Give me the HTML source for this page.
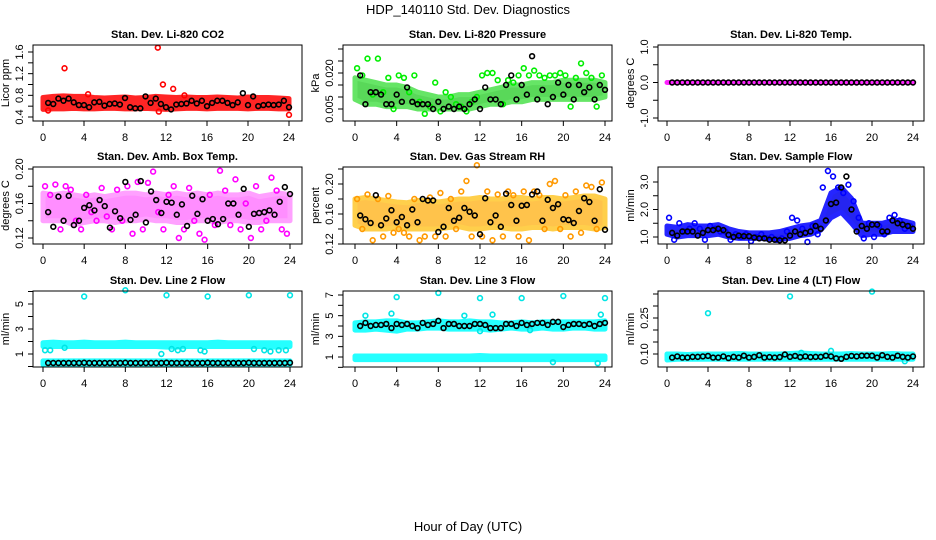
<!DOCTYPE html>
<html><head><meta charset="utf-8"><style>
html,body{margin:0;padding:0;background:#fff;}
svg{display:block;font-family:"Liberation Sans",Arial,sans-serif;}
</style></head><body>
<svg id="chart" width="936" height="540" viewBox="0 0 936 540">
<rect width="936" height="540" fill="#fff"/>
<text x="468" y="14" text-anchor="middle" font-size="13">HDP_140110  Std. Dev. Diagnostics</text>
<text x="468" y="531" text-anchor="middle" font-size="13">Hour of Day (UTC)</text>
</svg>
<script>
// ---- data arrays ----
const xTicks = [0,4,8,12,16,20,24];
const bandHours = [0,1,2,3,4,5,6,7,8,9,10,11,12,13,14,15,16,17,18,19,20,21,22,23,24];
const blackHours = [0.5,1,1.5,2,2.5,3,3.5,4,4.5,5,5.5,6,6.5,7,7.5,8,8.5,9,9.5,10,10.5,11,11.5,12,12.5,13,13.5,14,14.5,15,15.5,16,16.5,17,17.5,18,18.5,19,19.5,20,20.5,21,21.5,22,22.5,23,23.5,24];
const scatHours = [0.2,0.7,1.2,1.7,2.2,2.7,3.2,3.7,4.2,4.7,5.2,5.7,6.2,6.7,7.2,7.7,8.2,8.7,9.2,9.7,10.2,10.7,11.2,11.7,12.2,12.7,13.2,13.7,14.2,14.7,15.2,15.7,16.2,16.7,17.2,17.7,18.2,18.7,19.2,19.7,20.2,20.7,21.2,21.7,22.2,22.7,23.2,23.7];

// CO2
const co2Low  = [0.54,0.55,0.55,0.56,0.55,0.55,0.56,0.56,0.55,0.55,0.56,0.55,0.54,0.55,0.56,0.56,0.55,0.56,0.56,0.56,0.55,0.56,0.56,0.55,0.55];
const co2High = [0.76,0.78,0.79,0.78,0.78,0.76,0.75,0.76,0.77,0.75,0.76,0.78,0.77,0.76,0.77,0.76,0.76,0.77,0.76,0.75,0.77,0.76,0.76,0.75,0.74];
const co2OutH = [2.1,11.2,11.7,12.7,4.4,24,11.3,0.5,13.8];
const co2OutV = [1.3,1.68,1.0,0.92,0.82,0.44,0.5,0.52,0.8];
const co2Black = [0.66,0.64,0.74,0.7,0.74,0.67,0.62,0.62,0.58,0.67,0.68,0.61,0.64,0.65,0.63,0.75,0.58,0.56,0.56,0.78,0.66,0.74,0.64,0.58,0.54,0.63,0.64,0.65,0.7,0.65,0.7,0.6,0.66,0.7,0.7,0.66,0.62,0.67,0.84,0.62,0.78,0.6,0.62,0.63,0.62,0.63,0.7,0.58];

// Pressure
const presLow  = [0.009,0.007,0.007,0.006,0.006,0.006,0.005,0.005,0.005,0.005,0.005,0.005,0.006,0.007,0.007,0.008,0.008,0.009,0.009,0.009,0.009,0.009,0.009,0.009,0.010];
const presHigh = [0.018,0.017,0.016,0.015,0.015,0.014,0.012,0.011,0.010,0.010,0.011,0.011,0.012,0.013,0.014,0.015,0.015,0.016,0.016,0.016,0.017,0.017,0.017,0.017,0.016];
const presScat = [0.022,0.019,0.026,0.011,0.026,0.012,0.018,0.005,0.019,0.018,0.012,0.019,0.008,0.003,0.006,0.016,0.004,0.012,0.010,0.007,0.006,0.004,0.008,0.010,0.019,0.020,0.020,0.017,0.007,0.017,0.016,0.019,0.022,0.019,0.021,0.019,0.018,0.019,0.019,0.020,0.019,0.006,0.018,0.024,0.020,0.018,0.006,0.019];
const presBlack = [0.019,0.007,0.012,0.012,0.011,0.007,0.007,0.011,0.008,0.014,0.008,0.007,0.007,0.007,0.005,0.008,0.005,0.006,0.005,0.006,0.005,0.007,0.009,0.005,0.014,0.009,0.009,0.007,0.015,0.019,0.009,0.015,0.011,0.027,0.009,0.013,0.007,0.010,0.016,0.011,0.015,0.009,0.015,0.012,0.014,0.009,0.015,0.013];

// Temp
const tempBlack = [0,0,0,0,0,0,0,0,0,0,0,0,0,0,0,0,0,0,0,0,0,0,0,0,0,0,0,0,0,0,0,0,0,0,0,0,0,0,0,0,0,0,0,0,0,0,0,0];

// Box temp
const boxLow  = [0.14,0.14,0.14,0.135,0.138,0.14,0.14,0.138,0.14,0.14,0.142,0.14,0.14,0.138,0.138,0.14,0.14,0.138,0.14,0.14,0.138,0.138,0.14,0.14,0.14];
const boxHigh = [0.172,0.17,0.172,0.17,0.168,0.17,0.168,0.17,0.172,0.172,0.17,0.172,0.17,0.172,0.17,0.172,0.17,0.172,0.17,0.17,0.172,0.168,0.17,0.172,0.17];
const boxScat = [0.18,0.17,0.182,0.13,0.18,0.176,0.14,0.13,0.17,0.15,0.14,0.178,0.145,0.13,0.176,0.14,0.18,0.125,0.185,0.13,0.184,0.197,0.15,0.13,0.17,0.18,0.12,0.13,0.178,0.14,0.125,0.118,0.17,0.135,0.198,0.175,0.135,0.188,0.13,0.16,0.12,0.18,0.13,0.14,0.19,0.175,0.13,0.125];
const boxBlack = [0.15,0.133,0.168,0.14,0.169,0.135,0.14,0.155,0.158,0.152,0.164,0.157,0.132,0.151,0.143,0.185,0.141,0.147,0.186,0.138,0.174,0.164,0.149,0.162,0.161,0.147,0.159,0.134,0.169,0.148,0.165,0.14,0.142,0.136,0.142,0.16,0.16,0.147,0.177,0.133,0.148,0.149,0.15,0.152,0.147,0.162,0.179,0.171];

// RH
const rhLow  = [0.145,0.14,0.14,0.14,0.142,0.14,0.14,0.14,0.14,0.142,0.143,0.14,0.14,0.142,0.142,0.14,0.14,0.142,0.142,0.14,0.142,0.142,0.142,0.14,0.142];
const rhHigh = [0.18,0.182,0.18,0.178,0.176,0.175,0.178,0.178,0.176,0.178,0.18,0.18,0.182,0.18,0.18,0.182,0.182,0.18,0.182,0.182,0.18,0.182,0.184,0.184,0.18];
const rhScat = [0.18,0.14,0.186,0.125,0.18,0.13,0.184,0.135,0.14,0.135,0.13,0.18,0.125,0.13,0.182,0.13,0.188,0.13,0.18,0.14,0.19,0.204,0.13,0.225,0.13,0.19,0.125,0.186,0.13,0.19,0.185,0.13,0.19,0.125,0.19,0.185,0.14,0.2,0.204,0.14,0.185,0.13,0.19,0.135,0.198,0.196,0.14,0.202];
const rhBlack = [0.158,0.153,0.148,0.185,0.145,0.154,0.165,0.149,0.156,0.145,0.166,0.149,0.18,0.178,0.178,0.136,0.143,0.168,0.151,0.155,0.168,0.163,0.158,0.133,0.181,0.149,0.158,0.143,0.187,0.172,0.151,0.171,0.172,0.186,0.19,0.151,0.179,0.168,0.173,0.153,0.152,0.148,0.164,0.181,0.176,0.151,0.193,0.139];

// Sample flow
const sfLow  = [1.1,1.0,1.05,1.05,1.05,1.1,1.0,0.95,0.95,0.95,0.92,0.92,0.95,1.05,1.1,1.25,1.7,1.9,1.5,1.05,1.1,1.1,1.2,1.2,1.2];
const sfHigh = [1.4,1.35,1.45,1.4,1.4,1.45,1.3,1.2,1.15,1.15,1.15,1.2,1.3,1.4,1.45,1.6,2.6,2.8,2.4,1.5,1.5,1.5,1.6,1.6,1.5];
const sfScat = [1.7,0.9,1.5,1.2,1.3,1.5,1.3,0.9,1.4,1.3,1.2,1.2,0.9,1.1,1.0,1.1,0.85,1.0,1.1,0.95,1.0,0.9,0.95,1.2,1.7,1.6,1.3,0.82,1.4,1.1,2.8,3.4,3.2,2.8,2.6,2.9,2.3,1.7,0.95,1.5,1.0,1.4,1.1,1.7,1.8,1.6,1.3,1.4];
const sfBlack = [1.15,1.05,1.2,1.2,1.2,1.05,1.15,1.25,1.25,1.3,1.25,1.08,1.0,1.05,1.03,1.03,0.98,0.95,0.95,0.9,0.9,0.88,0.88,1.05,1.2,1.1,1.15,1.2,1.4,1.3,1.6,2.2,2.25,2.8,3.2,2.0,1.2,1.4,1.3,1.45,1.45,1.2,1.2,1.6,1.5,1.45,1.4,1.3];

// Line 2
const l2Low  = [1.6,1.6,1.6,1.6,1.6,1.6,1.6,1.6,1.6,1.6,1.6,1.6,1.55,1.55,1.6,1.6,1.6,1.6,1.6,1.6,1.6,1.6,1.55,1.55,1.6];
const l2High = [1.9,1.95,1.9,1.9,1.95,1.9,1.9,1.9,1.95,1.9,1.9,1.9,1.9,1.9,1.9,1.9,1.9,1.95,1.9,1.9,1.9,1.9,1.9,1.9,1.9];
const l2Low2  = [0.15,0.15,0.15,0.15,0.15,0.15,0.15,0.15,0.15,0.15,0.15,0.15,0.15,0.15,0.15,0.15,0.15,0.15,0.15,0.15,0.15,0.15,0.15,0.15,0.15];
const l2High2 = [0.45,0.45,0.45,0.45,0.45,0.45,0.45,0.45,0.45,0.45,0.45,0.45,0.45,0.45,0.45,0.45,0.45,0.45,0.45,0.45,0.45,0.45,0.45,0.45,0.45];
const l2OutH = [4,8,12,16,20,24,11.5,0.2,0.7,2.1,12.5,13.1,13.6,15.3,15.7,20.5,21.5,22.1,22.9,23.6];
const l2OutV = [5.6,6.1,5.7,5.6,5.7,5.7,1.0,1.3,1.3,1.5,1.4,1.3,1.4,1.3,1.2,1.4,1.3,1.2,1.3,1.3];
const l2Black = [0.28,0.28,0.28,0.28,0.28,0.28,0.28,0.3,0.28,0.28,0.28,0.28,0.28,0.28,0.28,0.3,0.28,0.28,0.28,0.28,0.28,0.28,0.28,0.3,0.28,0.28,0.28,0.28,0.28,0.28,0.28,0.3,0.28,0.28,0.28,0.28,0.28,0.28,0.28,0.3,0.28,0.28,0.28,0.28,0.28,0.28,0.28,0.3];

// Line 3
const l3Low  = [3.6,3.6,3.7,3.6,3.5,3.7,3.7,3.8,3.8,3.7,3.7,3.7,3.7,3.6,3.7,3.8,3.7,3.7,3.8,3.7,3.7,3.8,3.8,3.7,3.7];
const l3High = [4.3,4.4,4.4,4.5,4.5,4.3,4.3,4.4,4.5,4.4,4.4,4.5,4.4,4.4,4.3,4.3,4.4,4.3,4.4,4.4,4.4,4.4,4.4,4.4,4.5];
const l3Low2  = [0.75,0.75,0.75,0.75,0.75,0.75,0.75,0.75,0.75,0.75,0.75,0.75,0.75,0.75,0.75,0.75,0.75,0.75,0.75,0.75,0.75,0.75,0.75,0.75,0.75];
const l3High2 = [1.1,1.1,1.1,1.1,1.1,1.1,1.1,1.1,1.1,1.1,1.1,1.1,1.15,1.1,1.1,1.1,1.1,1.1,1.1,1.1,1.1,1.1,1.1,1.1,1.1];
const l3OutH = [4,8,12,16,20,24,1.0,3.5,10.5,13.2,23.6,19,23.3,12,16.8];
const l3OutV = [6.8,7.2,6.7,6.7,6.9,6.7,5.0,5.2,5.0,5.1,5.1,0.5,0.4,3.5,3.6];
const l3Black = [4.0,4.3,4.0,4.1,4.1,4.2,3.8,4.2,4.1,4.2,4.0,3.8,4.3,4.1,4.2,4.5,3.8,4.2,4.2,4.0,4.0,4.0,4.2,4.2,4.1,3.8,3.8,3.8,4.2,4.2,4.0,4.3,4.1,4.2,4.3,4.3,4.1,4.4,4.4,3.9,4.1,4.2,4.2,4.1,4.2,4.0,4.2,4.3];

// Line 4
const l4Low  = [0.075,0.078,0.078,0.078,0.078,0.078,0.078,0.078,0.078,0.078,0.078,0.078,0.078,0.078,0.078,0.078,0.078,0.078,0.078,0.078,0.078,0.078,0.078,0.078,0.078];
const l4High = [0.1,0.1,0.098,0.1,0.1,0.1,0.1,0.102,0.1,0.1,0.1,0.1,0.102,0.104,0.102,0.1,0.1,0.1,0.102,0.1,0.1,0.1,0.102,0.1,0.1];
const l4OutH = [4,12,20,16,13.1,23.2];
const l4OutV = [0.27,0.34,0.36,0.113,0.105,0.07];
const l4Black = [0.085,0.09,0.085,0.085,0.088,0.088,0.09,0.092,0.085,0.085,0.09,0.083,0.088,0.085,0.093,0.085,0.088,0.095,0.085,0.087,0.085,0.087,0.098,0.088,0.092,0.087,0.09,0.087,0.088,0.088,0.093,0.09,0.082,0.08,0.088,0.092,0.09,0.093,0.093,0.093,0.085,0.095,0.088,0.085,0.093,0.088,0.085,0.09];

// ---- drawing ----
const NS = "http://www.w3.org/2000/svg";
const svg = document.getElementById('chart');
function mk(tag, attrs, parent){ const e=document.createElementNS(NS,tag); for(const k in attrs) e.setAttribute(k,attrs[k]); (parent||svg).appendChild(e); return e; }

function panel(cfg){
  const g = mk('g',{});
  
  
  const [L,T,R,B] = cfg.box;
  const xs = h => cfg.x0 + h/24*(cfg.x24-cfg.x0);
  const ys = v => cfg.ya[1] + (v-cfg.ya[0])*(cfg.yb[1]-cfg.ya[1])/(cfg.yb[0]-cfg.ya[0]);
  (cfg.bands||[]).forEach(b=>{
    let pts=[];
    bandHours.forEach((h,i)=>pts.push(xs(h)+','+ys(b.hi[i])));
    for(let i=bandHours.length-1;i>=0;i--) pts.push(xs(bandHours[i])+','+ys(b.lo[i]));
    const p = mk('polygon',{points:pts.join(' '),fill:b.fill,stroke:b.stroke,'stroke-width':5,'stroke-linejoin':'round',opacity:b.op||0.85},g);
    
    
  });
  (cfg.scat||[]).forEach(s=>{
    s.h.forEach((h,i)=>{
      const c = mk('circle',{cx:xs(h),cy:ys(s.v[i]),r:2.4,fill:'none',stroke:s.color,'stroke-width':1.6},g);
      
      
    });
  });
  blackHours.forEach((h,i)=>{
    const c = mk('circle',{cx:xs(h),cy:ys(cfg.black[i]),r:2.4,fill:'none',stroke:'#000','stroke-width':1.6},g);
    
    
  });
  const bx = mk('rect',{x:L,y:T,width:R-L,height:B-T,fill:'none',stroke:'#000','stroke-width':1},g);
  
  
  mk('line',{x1:xs(0),x2:xs(24),y1:B,y2:B,stroke:'#000'},g);
  xTicks.forEach(t=>{
    mk('line',{x1:xs(t),x2:xs(t),y1:B,y2:B+5,stroke:'#000'},g);
    const tx = mk('text',{x:xs(t),y:B+20,'text-anchor':'middle','font-size':11},g);
    tx.textContent = t;
    
    
  });
  const yt = cfg.yticks;
  mk('line',{x1:L,x2:L,y1:ys(yt[0]),y2:ys(yt[yt.length-1]),stroke:'#000'},g);
  yt.forEach(t=>mk('line',{x1:L-5,x2:L,y1:ys(t),y2:ys(t),stroke:'#000'},g));
  cfg.ylabels.forEach((lab,i)=>{
    const y = ys(cfg.ylabelVals[i]);
    const tx = mk('text',{x:L-10,y:y,'text-anchor':'middle','font-size':11,transform:`rotate(-90 ${L-10} ${y})`},g);
    tx.textContent = lab;
    
    
  });
  const my=(T+B)/2;
  const yt2 = mk('text',{x:L-24,y:my,'text-anchor':'middle','font-size':11,transform:`rotate(-90 ${L-24} ${my})`},g);
  yt2.textContent = cfg.ytitle;
  
  
  const tt = mk('text',{x:(L+R)/2,y:T-7,'text-anchor':'middle','font-size':11,'font-weight':'bold'},g);
  tt.textContent = cfg.title;
  
  
}

const C1=[33,302,43,289], C2=[343,612,355,605], C3=[658,924,667,913];
panel({name:'panel-co2',title:'Stan. Dev. Li-820 CO2',ytitle:'Licor ppm',box:[C1[0],45,C1[1],121],x0:C1[2],x24:C1[3],ya:[0.4,117],yb:[1.6,52],
  yticks:[0.4,0.6,0.8,1.0,1.2,1.4,1.6],ylabels:['0.4','0.8','1.2','1.6'],ylabelVals:[0.4,0.8,1.2,1.6],
  bands:[{lo:co2Low,hi:co2High,fill:'#ff0000',stroke:'#ff0000'}],scat:[{h:co2OutH,v:co2OutV,color:'#ff0000'}],black:co2Black});
panel({name:'panel-pressure',title:'Stan. Dev. Li-820 Pressure',ytitle:'kPa',box:[C2[0],45,C2[1],121],x0:C2[2],x24:C2[3],ya:[0.005,109],yb:[0.020,73],
  yticks:[0.005,0.01,0.015,0.02,0.025,0.03],ylabels:['0.005','0.020'],ylabelVals:[0.005,0.02],
  bands:[{lo:presLow,hi:presHigh,fill:'#22cc22',stroke:'#33dd33',op:0.75}],scat:[{h:scatHours,v:presScat,color:'#00ee00'}],black:presBlack});
panel({name:'panel-temp',title:'Stan. Dev. Li-820 Temp.',ytitle:'degrees C',box:[C3[0],45,C3[1],121],x0:C3[2],x24:C3[3],ya:[-1,118],yb:[1,47],
  yticks:[-1,-0.5,0,0.5,1],ylabels:['-1.0','0.0','1.0'],ylabelVals:[-1,0,1],
  bands:[{lo:bandHours.map(()=>0),hi:bandHours.map(()=>0),fill:'#ff00ff',stroke:'#ff00ff'}],scat:[],black:tempBlack});
panel({name:'panel-box-temp',title:'Stan. Dev. Amb. Box Temp.',ytitle:'degrees C',box:[C1[0],167,C1[1],244],x0:C1[2],x24:290,ya:[0.12,238],yb:[0.20,169],
  yticks:[0.12,0.14,0.16,0.18,0.2],ylabels:['0.12','0.16','0.20'],ylabelVals:[0.12,0.16,0.2],
  bands:[{lo:boxLow,hi:boxHigh,fill:'#ff33ff',stroke:'#ff55ff',op:0.55}],scat:[{h:scatHours,v:boxScat,color:'#ff00ff'}],black:boxBlack});
panel({name:'panel-rh',title:'Stan. Dev. Gas Stream RH',ytitle:'percent',box:[C2[0],167,C2[1],244],x0:C2[2],x24:C2[3],ya:[0.12,244],yb:[0.20,184],
  yticks:[0.12,0.14,0.16,0.18,0.2,0.22],ylabels:['0.12','0.16','0.20'],ylabelVals:[0.12,0.16,0.2],
  bands:[{lo:rhLow,hi:rhHigh,fill:'#ffaa00',stroke:'#ffbb00',op:0.7}],scat:[{h:scatHours,v:rhScat,color:'#ff9900'}],black:rhBlack});
panel({name:'panel-sample-flow',title:'Stan. Dev. Sample Flow',ytitle:'ml/min',box:[C3[0],167,C3[1],244],x0:C3[2],x24:C3[3],ya:[1.0,237],yb:[3.0,182],
  yticks:[1,1.5,2,2.5,3],ylabels:['1.0','2.0','3.0'],ylabelVals:[1,2,3],
  bands:[{lo:sfLow,hi:sfHigh,fill:'#0000ee',stroke:'#0000ff'}],scat:[{h:scatHours,v:sfScat,color:'#0000ff'}],black:sfBlack});
panel({name:'panel-line2',title:'Stan. Dev. Line 2 Flow',ytitle:'ml/min',box:[C1[0],291,C1[1],367],x0:C1[2],x24:290,ya:[1,354],yb:[5,304],
  yticks:[0,1,2,3,4,5,6],ylabels:['1','3','5'],ylabelVals:[1,3,5],
  bands:[{lo:l2Low,hi:l2High,fill:'#00ffff',stroke:'#00ffff'},{lo:l2Low2,hi:l2High2,fill:'#00ffff',stroke:'#00ffff'}],scat:[{h:l2OutH,v:l2OutV,color:'#00e5e5'}],black:l2Black});
panel({name:'panel-line3',title:'Stan. Dev. Line 3 Flow',ytitle:'ml/min',box:[C2[0],291,C2[1],367],x0:C2[2],x24:C2[3],ya:[1,357],yb:[7,295],
  yticks:[0,1,2,3,4,5,6,7],ylabels:['1','3','5','7'],ylabelVals:[1,3,5,7],
  bands:[{lo:l3Low,hi:l3High,fill:'#00ffff',stroke:'#00ffff'},{lo:l3Low2,hi:l3High2,fill:'#00ffff',stroke:'#00ffff'}],scat:[{h:l3OutH,v:l3OutV,color:'#00e5e5'}],black:l3Black});
panel({name:'panel-line4',title:'Stan. Dev. Line 4 (LT) Flow',ytitle:'ml/min',box:[C3[0],291,C3[1],367],x0:C3[2],x24:C3[3],ya:[0.10,354],yb:[0.25,318],
  yticks:[0.1,0.15,0.2,0.25,0.3,0.35],ylabels:['0.10','0.25'],ylabelVals:[0.1,0.25],
  bands:[{lo:l4Low,hi:l4High,fill:'#00ffff',stroke:'#00ffff'}],scat:[{h:l4OutH,v:l4OutV,color:'#00e5e5'}],black:l4Black});
</script>
</body></html>
